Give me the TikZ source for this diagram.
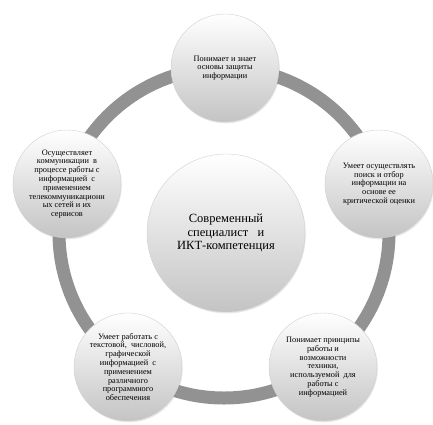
\documentclass[tikz,border=0pt]{standalone}
\usepackage{fontspec}
\setmainfont{Liberation Serif}
\usetikzlibrary{shadows}
\definecolor{ringgray}{RGB}{146,146,146}
\definecolor{circbot}{RGB}{196,196,196}
\definecolor{circedge}{RGB}{208,208,208}
\begin{document}
\begin{tikzpicture}[x=1pt,y=-1pt,
  bub/.style={circle, draw=circedge, line width=0.4pt, top color=white, bottom color=circbot,
    inner sep=0pt, align=center,
    drop shadow={opacity=0.18, shadow xshift=0.8pt, shadow yshift=-1.4pt}},
  smallbub/.style={bub, minimum size=108pt, font=\fontsize{8.3}{8.8}\selectfont},
  bigbub/.style={bub, minimum size=158pt, font=\fontsize{12.5}{13.4}\selectfont},
  ringline/.style={draw=ringgray, line width=13pt}]
\useasboundingbox (0,0) rectangle (433,424);
\coordinate (ringc) at (224,233);
\draw[ringline] (ringc) circle[radius=165];

\node[bigbub] (center) at (226,233) {Современный\\специалист \ \ и\\ИКТ-компетенция};

\node[smallbub] (top) at (225,68) {Понимает и знает\\основы защиты\\информации};
\node[smallbub] (right) at (379,184) {Умеет осуществлять\\поиск и отбор\\информации на\\основе ее\\критической оценки};
\node[smallbub] (botright) at (323,367) {Понимает принципы\\работы и\\возможности\\техники,\\используемой \ для\\работы с\\информацией};
\node[smallbub] (botleft) at (128,367) {Умеет работать с\\текстовой, \ числовой,\\графической\\информацией \ с\\применением\\различного\\программного\\обеспечения};
\node[smallbub] (left) at (67,184) {Осуществляет\\коммуникации \ в\\процессе работы с\\информацией \ с\\применением\\телекоммуникационн\\ых сетей и их\\сервисов};
\end{tikzpicture}
\end{document}
